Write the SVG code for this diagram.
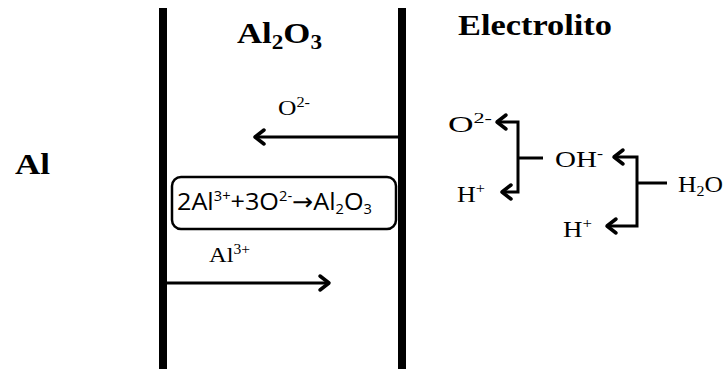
<svg xmlns="http://www.w3.org/2000/svg" width="725" height="369" viewBox="0 0 725 369">
<style>
.wall{stroke:#000;stroke-width:8;fill:none}
.conn{stroke:#000;stroke-width:3;fill:none}
.head{stroke:#000;stroke-width:3.5;fill:none;stroke-linecap:round;stroke-linejoin:round}
.title{font-family:'Liberation Serif','Times New Roman',Times,serif;font-weight:bold;font-size:30px;fill:#000}
.lbl{font-family:'Liberation Serif','Times New Roman',Times,serif;font-size:22px;fill:#000}
.lbl2{font-family:'Liberation Serif','Times New Roman',Times,serif;font-size:24px;fill:#000}
.eq{font-family:'Open Sans',sans-serif;font-size:24px;fill:#000}
.arr{font-family:'DejaVu Sans',sans-serif}
.box{fill:#fff;stroke:#000;stroke-width:2.5}
</style>
<defs>
<marker id="ah" markerUnits="userSpaceOnUse" markerWidth="20" markerHeight="20" refX="12" refY="10" orient="auto">
<path class="head" d="M3,3 L12,10 L3,17"/>
</marker>
</defs>
<g id="walls">
<line class="wall" x1="163" y1="8" x2="163" y2="369"/>
<line class="wall" x1="402" y1="8" x2="402" y2="369"/>
</g>
<g id="title-al2o3"><text class="title" x="237" y="43" textLength="85" lengthAdjust="spacingAndGlyphs">Al<tspan font-size="20" dy="6">2</tspan><tspan dy="-6">O</tspan><tspan font-size="20" dy="6">3</tspan></text></g>
<g id="title-electrolito"><text class="title" x="458" y="35" textLength="154" lengthAdjust="spacingAndGlyphs">Electrolito</text></g>
<g id="title-al"><text class="title" x="15" y="174" textLength="35" lengthAdjust="spacingAndGlyphs">Al</text></g>
<g id="reaction">
<rect class="box" x="172" y="177" width="224" height="52" rx="9"/>
<text class="eq" x="177" y="210" textLength="195" lengthAdjust="spacingAndGlyphs">2Al<tspan font-size="14" dy="-9">3+</tspan><tspan dy="9">+3O</tspan><tspan font-size="14" dy="-9">2-</tspan><tspan class="arr" dy="9">→</tspan><tspan>Al</tspan><tspan font-size="14" dy="4">2</tspan><tspan dy="-4">O</tspan><tspan font-size="14" dy="4">3</tspan></text>
</g>
<g id="label-o2-mid"><text class="lbl" x="278" y="115" textLength="32" lengthAdjust="spacingAndGlyphs">O<tspan font-size="14" dy="-8">2-</tspan></text></g>
<g id="label-al3"><text class="lbl" x="209" y="262" textLength="41" lengthAdjust="spacingAndGlyphs">Al<tspan font-size="14" dy="-8">3+</tspan></text></g>
<g id="label-o2-r"><text class="lbl2" x="448" y="132" textLength="44" lengthAdjust="spacingAndGlyphs">O<tspan font-size="15" dy="-9">2-</tspan></text></g>
<g id="label-h1"><text class="lbl2" x="457" y="202" textLength="28" lengthAdjust="spacingAndGlyphs">H<tspan font-size="15" dy="-9">+</tspan></text></g>
<g id="label-oh"><text class="lbl2" x="555" y="167" textLength="48" lengthAdjust="spacingAndGlyphs">OH<tspan font-size="15" dy="-9">-</tspan></text></g>
<g id="label-h2"><text class="lbl2" x="563" y="237" textLength="29" lengthAdjust="spacingAndGlyphs">H<tspan font-size="15" dy="-9">+</tspan></text></g>
<g id="label-h2o"><text class="lbl2" x="678" y="192" textLength="45" lengthAdjust="spacingAndGlyphs">H<tspan font-size="15" dy="4">2</tspan><tspan dy="-4">O</tspan></text></g>
<g id="connectors">
<path class="conn" d="M398,137 H255" marker-end="url(#ah)"/>
<path class="conn" d="M167,283 H329" marker-end="url(#ah)"/>
<path class="conn" d="M543,158 H518"/>
<path class="conn" d="M518,158 V122 H497" marker-end="url(#ah)"/>
<path class="conn" d="M518,158 V192 H502" marker-end="url(#ah)"/>
<path class="conn" d="M667,183 H637"/>
<path class="conn" d="M637,183 V157 H614" marker-end="url(#ah)"/>
<path class="conn" d="M637,183 V226 H607" marker-end="url(#ah)"/>
</g>
</svg>
